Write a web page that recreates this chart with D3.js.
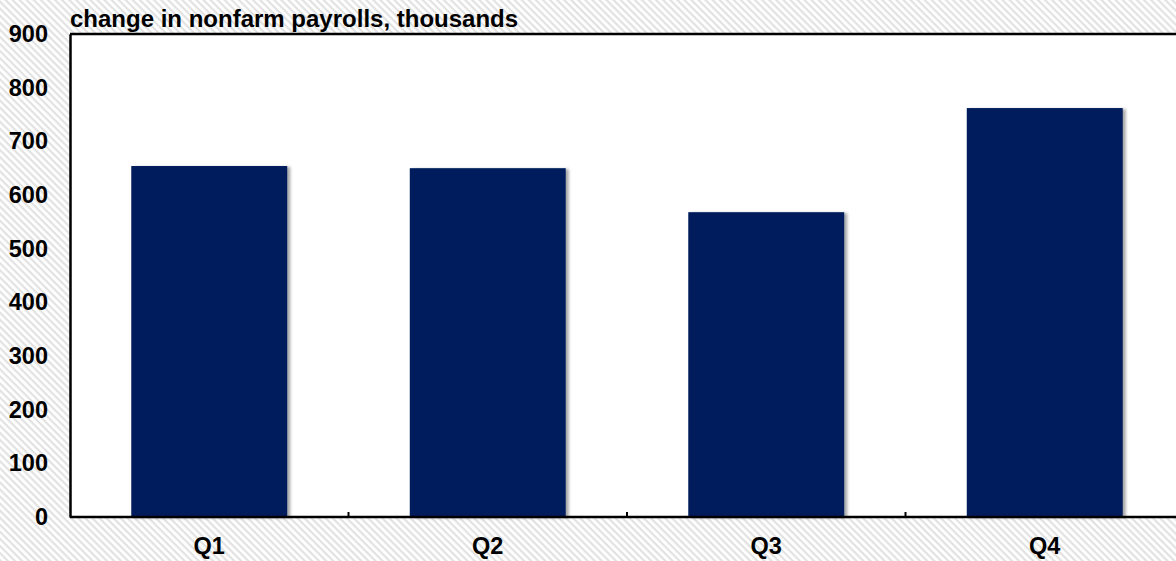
<!DOCTYPE html>
<html><head><meta charset="utf-8">
<script src="https://cdn.jsdelivr.net/npm/d3@7"></script>
<style>body{margin:0;overflow:hidden}svg{display:block}</style>
</head><body>
<script>
const categories = ["Q1","Q2","Q3","Q4"];
const values = [654, 650, 568, 762];
const yTicks = [0,100,200,300,400,500,600,700,800,900];
const title = "change in nonfarm payrolls, thousands";

const W = 1176, H = 561;
const m = {left:70, top:34, bottom:44};
const plotW = 1114, plotH = H - m.top - m.bottom;

const svg = d3.select("body").append("svg").attr("width", W).attr("height", H);
const defs = svg.append("defs");
const pat = defs.append("pattern").attr("id","hatch").attr("patternUnits","userSpaceOnUse")
  .attr("width",5).attr("height",5).attr("patternTransform","rotate(45)");
pat.append("rect").attr("width",5).attr("height",5).attr("fill","#ffffff");
pat.append("rect").attr("width",5).attr("height",2.2).attr("fill","#e2e2e2");
const f = defs.append("filter").attr("id","sh").attr("x","-10%").attr("y","-10%").attr("width","130%").attr("height","130%");
f.append("feDropShadow").attr("dx",3).attr("dy",1).attr("stdDeviation",1.5).attr("flood-color","#000").attr("flood-opacity",0.35);

svg.append("rect").attr("width",W).attr("height",H).attr("fill","url(#hatch)");

const x = d3.scaleBand().domain(categories).range([m.left, m.left+plotW]).paddingInner(0.44).paddingOuter(0.22);
const y = d3.scaleLinear().domain([0,900]).range([m.top+plotH, m.top]);

svg.append("rect").attr("x",m.left).attr("y",m.top).attr("width",plotW).attr("height",plotH).attr("fill","#fff");

svg.selectAll("rect.bar").data(values).join("rect").attr("class","bar")
  .attr("x",(d,i)=>x(categories[i])).attr("width",x.bandwidth())
  .attr("y",d=>y(d)).attr("height",d=>y(0)-y(d))
  .attr("fill","#001f5c").attr("filter","url(#sh)");

const font = "'Liberation Sans', Arial, sans-serif";
// y axis
const ya = svg.append("g").attr("transform",`translate(${m.left},0)`)
  .call(d3.axisLeft(y).tickValues(yTicks).tickSize(0).tickPadding(22));
ya.select(".domain").attr("stroke","#000").attr("stroke-width",2.5);
ya.selectAll("text").attr("font-family",font).attr("font-weight","bold").attr("font-size",23.5).attr("fill","#000");

// x axis
const step = x.step();
const bounds = [1,2,3].map(i=>m.left + i*step);
const xa = svg.append("g").attr("transform",`translate(0,${y(0)})`)
  .call(d3.axisBottom(x).tickSize(0).tickPadding(20));
xa.select(".domain").remove();
xa.selectAll("text").attr("font-family",font).attr("font-weight","bold").attr("font-size",23.5).attr("fill","#000");
svg.append("line").attr("x1",m.left).attr("x2",W).attr("y1",y(0)).attr("y2",y(0)).attr("stroke","#000").attr("stroke-width",2.5);
svg.selectAll("line.tk").data(bounds).join("line").attr("class","tk")
  .attr("x1",d=>d).attr("x2",d=>d).attr("y1",y(0)).attr("y2",y(0)-5).attr("stroke","#000").attr("stroke-width",2);
// top border
svg.append("line").attr("x1",m.left).attr("x2",W).attr("y1",m.top).attr("y2",m.top).attr("stroke","#000").attr("stroke-width",2.5);

svg.append("text").attr("x",m.left).attr("y",27).text(title)
  .attr("font-family",font).attr("font-weight","bold").attr("font-size",24).attr("fill","#000");
</script>
</body></html>
